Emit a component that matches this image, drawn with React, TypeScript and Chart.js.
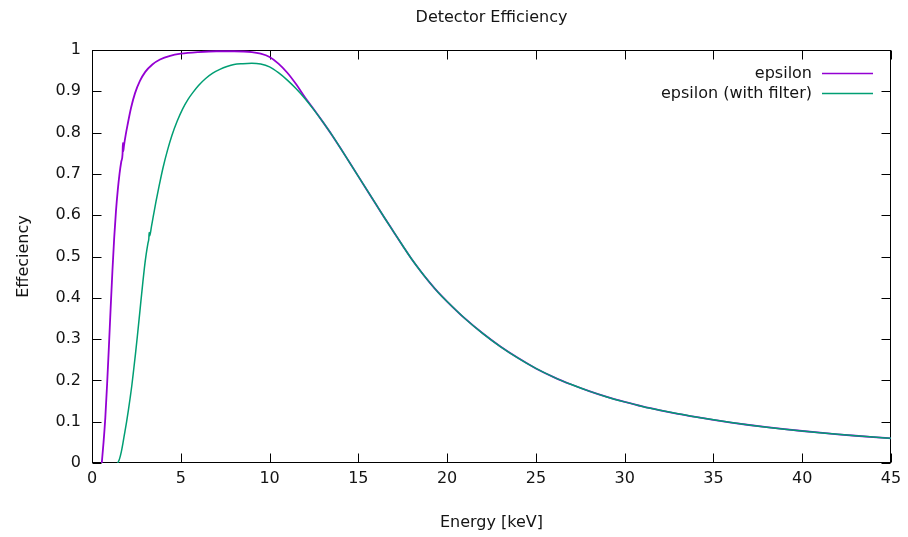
import { useEffect, useRef } from "react";
import { Chart, registerables } from "chart.js";

Chart.register(...registerables);

// Rising edge of the bare detector efficiency (energy in keV)
const epsilonHeadEnergy = [
  0.55, 0.65, 0.75, 0.85, 0.95, 1.05, 1.15, 1.25, 1.35, 1.45, 1.55, 1.65, 1.72,
  1.74, 1.76, 1.8, 1.9, 2.0, 2.2, 2.42, 2.7, 3.0, 3.4, 3.83, 4.4, 5, 6, 7, 8, 9,
  9.5, 10, 10.5, 11, 11.5, 12, 12.5, 13,
];
const epsilonHeadValue = [
  0, 0.05, 0.11, 0.19, 0.28, 0.375, 0.465, 0.545, 0.61, 0.66, 0.7, 0.73, 0.748,
  0.775, 0.755, 0.768, 0.795, 0.818, 0.86, 0.895, 0.925, 0.947, 0.965, 0.977,
  0.986, 0.991, 0.995, 0.997, 0.997, 0.995, 0.991, 0.983, 0.967, 0.945, 0.917,
  0.885, 0.856, 0.826,
];

// Rising edge with the filter in front of the detector
const filterHeadEnergy = [
  1.45, 1.55, 1.65, 1.75, 1.85, 1.95, 2.05, 2.15, 2.25, 2.35, 2.45, 2.55, 2.65,
  2.75, 2.85, 2.95, 3.05, 3.15, 3.2, 3.22, 3.25, 3.35, 3.45, 3.6, 3.8, 4.0,
  4.25, 4.5, 4.8, 5.1, 5.4, 5.7, 6.0, 6.4, 6.8, 7.2, 7.6, 8.0, 8.5, 9.0, 9.5,
  10, 10.5, 11, 11.5, 12, 12.5, 13,
];
const filterHeadValue = [
  0, 0.01, 0.027, 0.05, 0.075, 0.1, 0.128, 0.158, 0.19, 0.227, 0.265, 0.305,
  0.347, 0.39, 0.432, 0.472, 0.505, 0.532, 0.543, 0.558, 0.55, 0.573, 0.597,
  0.632, 0.675, 0.715, 0.757, 0.793, 0.828, 0.857, 0.88, 0.898, 0.914, 0.931,
  0.944, 0.953, 0.96, 0.965, 0.967, 0.968, 0.966, 0.959, 0.945, 0.927, 0.906,
  0.882, 0.855, 0.826,
];

// High-energy fall-off, common to both curves
const tailEnergy = [
  13.5, 14, 14.5, 15, 15.5, 16, 16.5, 17, 17.5, 18, 18.5, 19, 19.5, 20, 21, 22,
  23, 24, 25, 26, 27, 28, 29, 30, 31, 32, 33, 34, 35, 36, 37, 38, 39, 40, 41,
  42, 43, 44, 45,
];
const tailValue = [
  0.795, 0.762, 0.728, 0.694, 0.66, 0.626, 0.592, 0.559, 0.526, 0.494, 0.465,
  0.438, 0.413, 0.391, 0.35, 0.314, 0.282, 0.254, 0.229, 0.208, 0.19, 0.174,
  0.16, 0.148, 0.137, 0.1275, 0.119, 0.1115, 0.1045, 0.098, 0.092, 0.0868,
  0.082, 0.0775, 0.0733, 0.0695, 0.066, 0.0627, 0.0597,
];

const seriesLabels = ["epsilon", "epsilon (with filter)"];
const seriesColors = ["#9400d3", "#009e73"];

const chartTitle = "Detector Efficiency";
const xTitle = "Energy [keV]";
const yTitle = "Effeciency";

const FONT = "'DejaVu Sans', Verdana, sans-serif";
const TEXT = "#141414";

const toPoints = (xs: number[], ys: number[]) =>
  xs.map((x, i) => ({ x, y: ys[i] }));

// Border box with inward, mirrored tick marks; title and key drawn on top
const framePlugin = {
  id: "frame",
  beforeDatasetsDraw(chart: any) {
    const { ctx, chartArea, scales } = chart;
    const L = Math.round(chartArea.left) + 0.5;
    const R = Math.round(chartArea.right) - 0.5;
    const T = Math.round(chartArea.top) + 0.5;
    const B = Math.round(chartArea.bottom) - 0.5;
    const len = 9;
    ctx.save();
    ctx.strokeStyle = "#000";
    ctx.lineWidth = 1;
    ctx.strokeRect(L, T, R - L, B - T);
    ctx.beginPath();
    for (const t of scales.x.ticks) {
      const px = Math.round(scales.x.getPixelForValue(t.value)) + 0.5;
      ctx.moveTo(px, B);
      ctx.lineTo(px, B - len);
      ctx.moveTo(px, T);
      ctx.lineTo(px, T + len);
    }
    for (const t of scales.y.ticks) {
      const py = Math.round(scales.y.getPixelForValue(t.value)) + 0.5;
      ctx.moveTo(L, py);
      ctx.lineTo(L + len, py);
      ctx.moveTo(R, py);
      ctx.lineTo(R - len, py);
    }
    ctx.stroke();
    ctx.restore();
  },
  afterDraw(chart: any) {
    const { ctx, chartArea } = chart;
    ctx.save();
    ctx.font = `16px ${FONT}`;
    ctx.fillStyle = TEXT;
    ctx.textAlign = "center";
    ctx.textBaseline = "alphabetic";
    ctx.fillText(chartTitle, (chartArea.left + chartArea.right) / 2, 22);
    ctx.textAlign = "right";
    ctx.textBaseline = "middle";
    chart.data.datasets.forEach((ds: any, i: number) => {
      const y = 73 + i * 20;
      ctx.fillStyle = TEXT;
      ctx.fillText(ds.label, chartArea.right - 79, y + 1);
      ctx.strokeStyle = ds.borderColor;
      ctx.lineWidth = 1.6;
      ctx.beginPath();
      ctx.moveTo(chartArea.right - 69, y + 0.5);
      ctx.lineTo(chartArea.right - 18, y + 0.5);
      ctx.stroke();
    });
    ctx.restore();
  },
};

export default function App() {
  const canvasRef = useRef<HTMLCanvasElement | null>(null);

  useEffect(() => {
    const canvas = canvasRef.current;
    if (!canvas) return;
    const chart = new Chart(canvas, {
      type: "line",
      data: {
        datasets: [
          {
            label: seriesLabels[0],
            data: toPoints(
              [...epsilonHeadEnergy, ...tailEnergy],
              [...epsilonHeadValue, ...tailValue]
            ),
            borderColor: seriesColors[0],
            borderWidth: 1.8,
            pointRadius: 0,
            cubicInterpolationMode: "monotone",
            order: 1,
          },
          {
            label: seriesLabels[1],
            data: toPoints(
              [...filterHeadEnergy, ...tailEnergy],
              [...filterHeadValue, ...tailValue]
            ),
            borderColor: seriesColors[1],
            borderWidth: 1.5,
            pointRadius: 0,
            cubicInterpolationMode: "monotone",
            order: 0,
          },
        ],
      },
      options: {
        responsive: false,
        animation: false,
        events: [],
        layout: { padding: { top: 50, right: 17, left: 0, bottom: 0 } },
        plugins: {
          legend: { display: false },
          title: { display: false },
          tooltip: { enabled: false },
        },
        scales: {
          x: {
            type: "linear",
            min: 0,
            max: 45,
            grid: { display: false, drawTicks: false },
            border: { display: false },
            ticks: {
              stepSize: 5,
              padding: 6,
              color: TEXT,
              font: { family: FONT, size: 16 },
              maxRotation: 0,
            },
            title: {
              display: true,
              text: xTitle,
              color: TEXT,
              font: { family: FONT, size: 16 },
              padding: { top: 0, bottom: 5 },
            },
            afterFit(scale: any) {
              scale.height = 74;
            },
          },
          y: {
            type: "linear",
            min: 0,
            max: 1,
            grid: { display: false, drawTicks: false },
            border: { display: false },
            ticks: {
              stepSize: 0.1,
              padding: 11,
              color: TEXT,
              font: { family: FONT, size: 16 },
              callback: (v: any) => String(Number(Number(v).toFixed(1))),
            },
            title: {
              display: true,
              text: yTitle,
              color: TEXT,
              font: { family: FONT, size: 16 },
              padding: { top: 14, bottom: 0 },
            },
            afterFit(scale: any) {
              scale.width = 92;
            },
          },
        },
      },
      plugins: [framePlugin],
    });
    return () => chart.destroy();
  }, []);

  return (
    <div style={{ position: "fixed", left: 0, top: 0, width: 908, height: 537, background: "#fff" }}>
      <canvas ref={canvasRef} width={908} height={537} style={{ display: "block" }} />
    </div>
  );
}
